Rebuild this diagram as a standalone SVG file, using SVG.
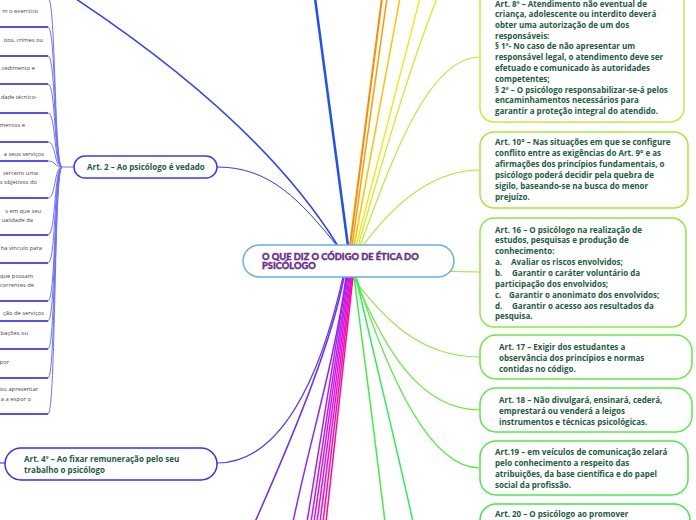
<svg xmlns="http://www.w3.org/2000/svg" width="696" height="520" viewBox="0 0 696 520">
<style>
.bx{font-family:"Open Sans","Noto Sans",sans-serif;font-weight:700;font-size:8px;fill:#1e5b40}
.lt{font-family:"Open Sans","Noto Sans",sans-serif;font-size:5.8px;fill:#444;text-anchor:end}
.ttl{font-family:Lato,"Open Sans",sans-serif;font-weight:900;font-size:9.3px;fill:#6a2c91;stroke:#6a2c91;stroke-width:0.35}
.ul{stroke:#1a1ae6;stroke-width:1.5;fill:none}
.sp{stroke:#7070ff;stroke-width:1;fill:none}
</style>
<rect width="696" height="520" fill="#ffffff"/>
<g id="connectors">
  <path class="sp" d="M74,167 L62,167"/>
  <path class="sp" d="M62,167 C54,167 56,-2 48,-2"/>
  <path class="sp" d="M62,167 C54,167 56,27 48,27"/>
  <path class="sp" d="M62,167 C54,167 56,56 48,56"/>
  <path class="sp" d="M62,167 C54,167 56,84 48,84"/>
  <path class="sp" d="M62,167 C54,167 56,113 48,113"/>
  <path class="sp" d="M62,167 C54,167 56,142 48,142"/>
  <path class="sp" d="M62,167 C54,167 56,161 48,161"/>
  <path class="sp" d="M62,167 C54,167 56,198 48,198"/>
  <path class="sp" d="M62,167 C54,167 56,235 48,235"/>
  <path class="sp" d="M62,167 C54,167 56,263 48,263"/>
  <path class="sp" d="M62,167 C54,167 56,301 48,301"/>
  <path class="sp" d="M62,167 C54,167 56,321 48,321"/>
  <path class="sp" d="M62,167 C54,167 56,349 48,349"/>
  <path class="sp" d="M62,167 C54,167 56,378 48,378"/>
  <path class="sp" d="M62,167 C54,167 56,414 48,414"/>
  <path d="M338,246 Q260,120 70,-5" stroke="#2a40ff" stroke-width="1.5" fill="none"/>
  <path d="M338,247 C300,200 270,167 217,167" stroke="#3434ff" stroke-width="1" fill="none"/>
  <path d="M348,246 L315,-2" stroke="#1a50ff" stroke-width="2.5" fill="none"/>
  <path d="M350,246 L382,-2" stroke="#ff8a00" stroke-width="2" fill="none"/>
  <path d="M352,246 L387,-2" stroke="#ff9c00" stroke-width="1.5" fill="none"/>
  <path d="M354,246 L400,-2" stroke="#ffc400" stroke-width="1.5" fill="none"/>
  <path d="M356,246 L420,-2" stroke="#f2e800" stroke-width="1.3" fill="none"/>
  <path d="M358,246 C380,170 405,80 437,-2" stroke="#c8ee10" stroke-width="1.2" fill="none"/>
  <path d="M360,246 C395,150 430,57 480,57" stroke="#b8ee30" stroke-width="1.2" fill="none"/>
  <path d="M362,247 C400,195 440,170 480,170" stroke="#a4ec30" stroke-width="1.2" fill="none"/>
  <path d="M360,265 C400,270 440,272 480,272" stroke="#92e834" stroke-width="1.2" fill="none"/>
  <path d="M352,277 C385,320 420,357 480,357" stroke="#78ec38" stroke-width="1.2" fill="none"/>
  <path d="M354,277 C385,350 420,410 480,410" stroke="#66ec40" stroke-width="1.2" fill="none"/>
  <path d="M356,277 C390,380 430,468 480,468" stroke="#55ec44" stroke-width="1.2" fill="none"/>
  <path d="M354,277 C365,360 375,440 385,522" stroke="#40ee48" stroke-width="1.5" fill="none"/>
  <path d="M356,277 C375,360 395,440 413,522" stroke="#30ee55" stroke-width="1.5" fill="none"/>
  <path d="M343,277 C320,380 280,463 217,463" stroke="#5a3aff" stroke-width="1.2" fill="none"/>
  <path d="M0,463 L5,463" stroke="#5a3aff" stroke-width="1.2" fill="none"/>
  <path d="M344,277 C332,340 300,420 255,522" stroke="#6a30ff" stroke-width="1.5" fill="none"/>
  <path d="M346,277 C335,360 310,440 293,522" stroke="#8a28ff" stroke-width="1.5" fill="none"/>
  <path d="M347,277 L307,522" stroke="#a020ff" stroke-width="1.5" fill="none"/>
  <path d="M348,277 L311,522" stroke="#b81cf8" stroke-width="1.5" fill="none"/>
  <path d="M349,277 L314,522" stroke="#cc18ee" stroke-width="1.5" fill="none"/>
  <path d="M350,277 L317,522" stroke="#de14de" stroke-width="1.5" fill="none"/>
  <path d="M351,277 L320,522" stroke="#ee10c8" stroke-width="1.5" fill="none"/>
  <path d="M352,277 L323,522" stroke="#fa0cb0" stroke-width="1.5" fill="none"/>
  <path d="M353,277 L326,522" stroke="#ff0a95" stroke-width="1.5" fill="none"/>
</g>
<g id="left-children">
  <path class="ul" d="M0,-2 H48"/>
  <g id="c1"><text class="lt" x="38" y="13">m o exercício</text><path class="ul" d="M0,27 H48"/></g>
  <g id="c2"><text class="lt" x="43" y="42">itos, crimes ou</text><path class="ul" d="M0,56 H48"/></g>
  <g id="c3"><text class="lt" x="35" y="70">cedimento e</text><path class="ul" d="M0,84 H48"/></g>
  <g id="c4"><text class="lt" x="37" y="99">dade técnico-</text><path class="ul" d="M0,113 H48"/></g>
  <g id="c5"><text class="lt" x="25" y="127">mentos e</text><path class="ul" d="M0,142 H48"/></g>
  <g id="c6"><text class="lt" x="44" y="156">a seus serviços</text><path class="ul" d="M0,161 H48"/></g>
  <g id="c7"><text class="lt" x="38" y="175">terceiro uma</text><text class="lt" x="37" y="184">s objetivos do</text><path class="ul" d="M0,198 H48"/></g>
  <g id="c8"><text class="lt" x="41" y="213">s em que seu</text><text class="lt" x="33" y="222">ualidade da</text><path class="ul" d="M0,235 H48"/></g>
  <g id="c9"><text class="lt" x="42" y="250">ha vínculo para</text><path class="ul" d="M0,263 H48"/></g>
  <g id="c10"><text class="lt" x="33" y="278">que possam</text><text class="lt" x="34" y="287">correntes de</text><path class="ul" d="M0,301 H48"/></g>
  <g id="c11"><text class="lt" x="44" y="315">ção de serviços</text><path class="ul" d="M0,321 H48"/></g>
  <g id="c12"><text class="lt" x="28" y="335">bações ou</text><path class="ul" d="M0,349 H48"/></g>
  <g id="c13"><text class="lt" x="9" y="364">por</text><path class="ul" d="M0,378 H48"/></g>
  <g id="c14"><text class="lt" x="38" y="391">ou apresentar</text><text class="lt" x="31" y="401">a a expor o</text><path class="ul" d="M0,414 H48"/></g>
</g>
<g id="art2">
  <rect x="74" y="156" width="143" height="22" rx="11" fill="#fff" stroke="#3a3aff" stroke-width="1.5"/>
  <text class="bx" x="87" y="170">Art. 2 – Ao psicólogo é vedado</text>
</g>
<g id="art4">
  <rect x="5" y="448" width="212" height="32" rx="16" fill="#fff" stroke="#3a2aff" stroke-width="1.5"/>
  <text class="bx" x="24" y="462">Art. 4º – Ao fixar remuneração pelo seu</text>
  <text class="bx" x="24" y="473">trabalho o psicólogo</text>
</g>
<g id="center">
  <rect x="243" y="245" width="211" height="32" rx="16" fill="#fff" stroke="#6aaee0" stroke-width="1.5"/>
  <text class="ttl" x="262" y="259.5">O QUE DIZ O CÓDIGO DE ÉTICA DO</text>
  <text class="ttl" x="262" y="269">PSICÓLOGO</text>
</g>
<g id="art8">
  <rect x="480" y="-12" width="204" height="134" rx="14" fill="#fff" stroke="#c6ec40" stroke-width="1.5"/>
  <text class="bx" x="495" y="7">Art. 8º – Atendimento não eventual de</text>
  <text class="bx" x="495" y="17">criança, adolescente ou interdito deverá</text>
  <text class="bx" x="495" y="27.8">obter uma autorização de um dos</text>
  <text class="bx" x="495" y="38.6">responsáveis:</text>
  <text class="bx" x="495" y="49.4">§ 1º- No caso de não apresentar um</text>
  <text class="bx" x="495" y="60.2">responsável legal, o atendimento deve ser</text>
  <text class="bx" x="495" y="71">efetuado e comunicado às autoridades</text>
  <text class="bx" x="495" y="81.8">competentes;</text>
  <text class="bx" x="495" y="92.6">§ 2º – O psicólogo responsabilizar-se-á pelos</text>
  <text class="bx" x="495" y="103.4">encaminhamentos necessários para</text>
  <text class="bx" x="495" y="114.2">garantir a proteção integral do atendido.</text>
</g>
<g id="art10">
  <rect x="480" y="132" width="208" height="76" rx="14" fill="#fff" stroke="#a8ea40" stroke-width="1.5"/>
  <text class="bx" x="495" y="145">Art. 10° – Nas situações em que se configure</text>
  <text class="bx" x="495" y="156">conflito entre as exigências do Art. 9° e as</text>
  <text class="bx" x="495" y="167">afirmações dos princípios fundamentais, o</text>
  <text class="bx" x="495" y="178">psicólogo poderá decidir pela quebra de</text>
  <text class="bx" x="495" y="189">sigilo, baseando-se na busca do menor</text>
  <text class="bx" x="495" y="200">prejuízo.</text>
</g>
<g id="art16">
  <rect x="480" y="218" width="206" height="109" rx="14" fill="#fff" stroke="#90e840" stroke-width="1.5"/>
  <text class="bx" x="495" y="232.5">Art. 16 – O psicólogo na realização de</text>
  <text class="bx" x="495" y="243.4">estudos, pesquisas e produção de</text>
  <text class="bx" x="495" y="254.2">conhecimento:</text>
  <text class="bx" y="265.1"><tspan x="495">a.</tspan><tspan x="511">Avaliar os riscos envolvidos;</tspan></text>
  <text class="bx" y="275.9"><tspan x="495">b.</tspan><tspan x="512">Garantir o caráter voluntário da</tspan></text>
  <text class="bx" x="495" y="286.8">participação dos envolvidos;</text>
  <text class="bx" y="297.6"><tspan x="495">c.</tspan><tspan x="509">Garantir o anonimato dos envolvidos;</tspan></text>
  <text class="bx" y="308.5"><tspan x="495">d.</tspan><tspan x="512">Garantir o acesso aos resultados da</tspan></text>
  <text class="bx" x="495" y="319.3">pesquisa.</text>
</g>
<g id="art17">
  <rect x="480" y="335" width="212" height="44" rx="16" fill="#fff" stroke="#6ee840" stroke-width="1.5"/>
  <text class="bx" x="499" y="350">Art. 17 – Exigir dos estudantes a</text>
  <text class="bx" x="499" y="361">observância dos princípios e normas</text>
  <text class="bx" x="499" y="372">contidas no código.</text>
</g>
<g id="art18">
  <rect x="480" y="388" width="212" height="44" rx="16" fill="#fff" stroke="#5ce848" stroke-width="1.5"/>
  <text class="bx" x="499" y="403">Art. 18 – Não divulgará, ensinará, cederá,</text>
  <text class="bx" x="499" y="414">emprestará ou venderá a leigos</text>
  <text class="bx" x="499" y="425">instrumentos e técnicas psicológicas.</text>
</g>
<g id="art19">
  <rect x="480" y="441" width="208" height="54" rx="16" fill="#fff" stroke="#4ee84a" stroke-width="1.5"/>
  <text class="bx" x="495" y="455">Art.19 – em veículos de comunicação zelará</text>
  <text class="bx" x="495" y="466">pelo conhecimento a respeito das</text>
  <text class="bx" x="495" y="477">atribuições, da base científica e do papel</text>
  <text class="bx" x="495" y="488">social da profissão.</text>
</g>
<g id="art20">
  <rect x="480" y="504" width="210" height="40" rx="16" fill="#fff" stroke="#40e84c" stroke-width="1.5"/>
  <text class="bx" x="495" y="517">Art. 20 – O psicólogo ao promover</text>
</g>
</svg>
